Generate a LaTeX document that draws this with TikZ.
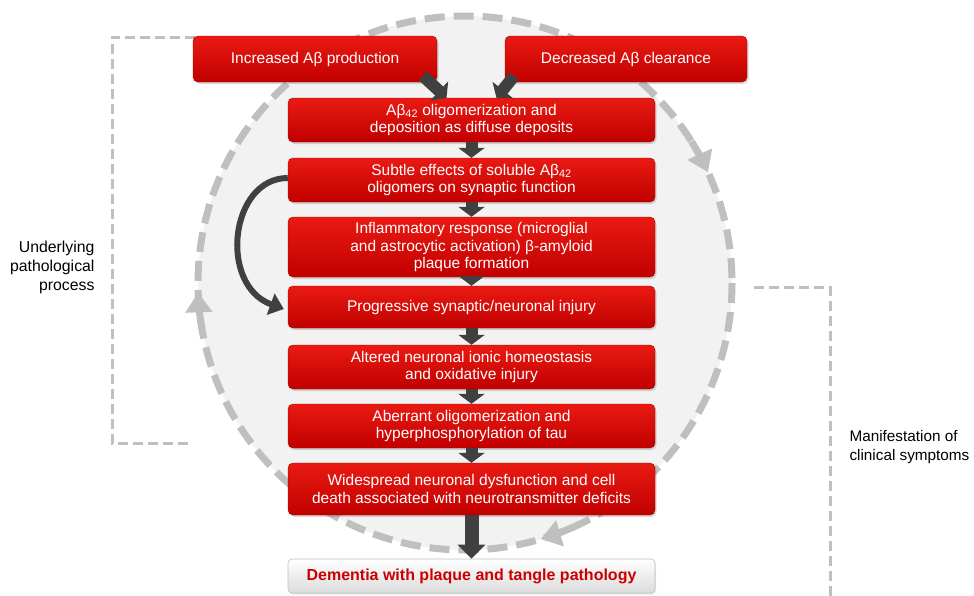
\documentclass[tikz,border=0pt]{standalone}
\usepackage{fontspec}
\setmainfont{Liberation Sans}
\usepackage{tikz}
\usetikzlibrary{calc, arrows.meta, shadows}

\definecolor{boxred}{HTML}{D40000}
\definecolor{boxredtop}{HTML}{EA1A12}
\definecolor{boxredbot}{HTML}{C00000}
\definecolor{arrowgrey}{HTML}{404040}
\definecolor{ringgrey}{HTML}{BFBFBF}
\definecolor{ringfill}{HTML}{F2F2F2}
\definecolor{dementiared}{HTML}{CC0000}

\begin{document}
\begin{tikzpicture}[x=1pt, y=-1pt,
		redbox/.style={rounded corners=5pt, top color=boxredtop, bottom color=boxredbot,
			draw=boxred!80!black, line width=0.4pt, text=white, align=center,
			font=\fontsize{15.5}{17.5}\selectfont, inner sep=0pt,
			drop shadow={opacity=0.3, shadow xshift=1.5pt, shadow yshift=-2pt}},
		stepbox/.style={redbox, minimum width=367pt},
		endbox/.style={rounded corners=4pt, top color=white, bottom color=black!14,
			draw=ringgrey, line width=0.6pt, text=dementiared, minimum width=367pt,
			minimum height=34pt, font=\fontsize{16}{18}\selectfont\bfseries,
			drop shadow={opacity=0.2, shadow xshift=1pt, shadow yshift=-1.5pt}},
		flow/.style={draw=arrowgrey, line width=12pt, -{Triangle[width=26pt, length=10pt]}},
		ring/.style={draw=ringgrey, line width=7pt, dash pattern=on 20pt off 9pt},
		ringarrow/.style={draw=ringgrey, line width=7pt, -{Triangle[width=26pt, length=20pt]}},
		bracket/.style={draw=ringgrey, line width=3pt, dash pattern=on 10pt off 5pt},
		sidelabel/.style={font=\fontsize{15.8}{19}\selectfont}]

	\useasboundingbox (0,0) rectangle (974,595);
	\def\bx{471.5};

	\coordinate (ctr) at (465,283);

	% the cycle
	\filldraw[ring, fill=ringfill] (ctr) circle[radius=267];
	\draw[ringarrow] ($(ctr)+(-32:267)$) arc[start angle=-32, end angle=-24.5, radius=267];
	\draw[ringarrow] ($(ctr)+(170:267)$) arc[start angle=170, end angle=178, radius=267];
	\draw[ringarrow] ($(ctr)+(66:267)$) arc[start angle=66, end angle=73.5, radius=267];

	% brackets
	\draw[bracket] (195,37) -| (112,443) -- (188,443);
	\draw[bracket] (754,287) -| (830,600);

	\node[sidelabel, align=right, anchor=east] (under) at (98,267) {Underlying\\pathological\\process};
	\node[sidelabel, align=left, anchor=west, font=\fontsize{15.3}{19}\selectfont] (manif) at (846,447) {Manifestation of\\clinical symptoms};

	% boxes
	\node[redbox, minimum width=244pt, minimum height=46pt] (inc) at (315,59) {Increased Aβ production};
	\node[redbox, minimum width=242pt, minimum height=46pt] (dec) at (626,59) {Decreased Aβ clearance};

	\node[stepbox, minimum height=44pt] (olig) at (\bx,120) {Aβ\textsubscript{42} oligomerization and\\deposition as diffuse deposits};
	\node[stepbox, minimum height=44pt] (subtle) at (\bx,180) {Subtle effects of soluble Aβ\textsubscript{42}\\oligomers on synaptic function};
	\node[stepbox, minimum height=60pt] (inflam) at (\bx,247) {Inflammatory response (microglial\\and astrocytic activation) β-amyloid\\plaque formation};
	\node[stepbox, minimum height=42pt] (injury) at (\bx,307) {Progressive synaptic/neuronal injury};
	\node[stepbox, minimum height=44pt] (ionic) at (\bx,367) {Altered neuronal ionic homeostasis\\and oxidative injury};
	\node[stepbox, minimum height=44pt] (tau) at (\bx,426) {Aberrant oligomerization and\\hyperphosphorylation of tau};
	\node[stepbox, minimum height=52pt] (death) at (\bx,489) {Widespread neuronal dysfunction and cell\\death associated with neurotransmitter deficits};

	\node[endbox] (dementia) at (\bx,576) {Dementia with plaque and tangle pathology};

	% arrows
	\coordinate (incfoot) at (423,76);
	\coordinate (decfoot) at (514,76);
	\draw[flow] (incfoot) -- ($(olig.north)+(-25,0)$);
	\draw[flow] (decfoot) -- ($(olig.north)+(25,0)$);

	\foreach \a/\b in {olig/subtle, subtle/inflam, inflam/injury, injury/ionic, ionic/tau, tau/death}
		\draw[flow] (\a.south) -- (\b.north);

	\draw[draw=arrowgrey, line width=14pt, -{Triangle[width=27pt, length=14pt]}] (death.south) -- (dementia.north);

	\draw[draw=arrowgrey, line width=6pt, -{Triangle[width=22pt, length=14pt]}]
		($(subtle.west)+(0,-2)$) .. controls (230,178) and (218,285) .. ($(injury.west)+(-4,2)$);
\end{tikzpicture}
\end{document}
